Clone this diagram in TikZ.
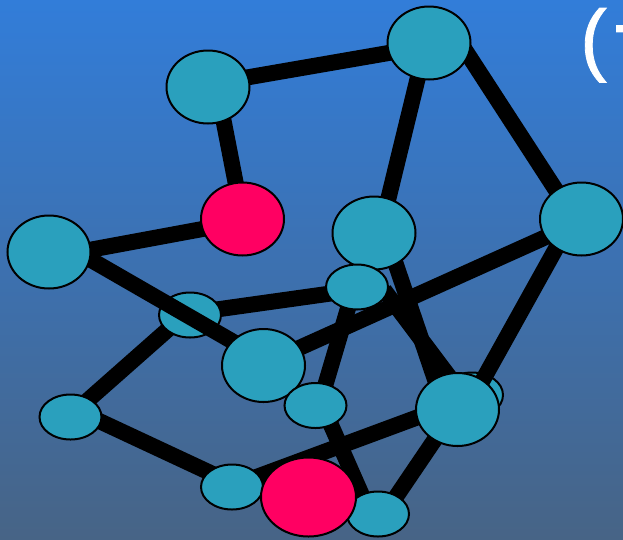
\documentclass[tikz,border=0pt]{standalone}
\usepackage{fontspec}
\setmainfont{Liberation Sans}
\newfontfamily\tfont[RawFeature={embolden=1}]{Liberation Sans}
\usetikzlibrary{shapes.geometric}
\pgfdeclarelayer{backdrop}
\pgfdeclarelayer{loweredges}
\pgfdeclarelayer{nodesback}
\pgfdeclarelayer{edges}
\pgfsetlayers{backdrop,loweredges,nodesback,edges,main}
\definecolor{bgtop}{RGB}{50,125,217}
\definecolor{bgbot}{RGB}{71,100,134}
\definecolor{tealn}{RGB}{42,160,189}
\definecolor{pinkn}{RGB}{255,0,98}
\tikzset{
  x=1pt,y=-1pt,
  atom/.style={draw=black,line width=2pt,ellipse,fill=tealn,inner sep=0pt,outer sep=0pt},
  big/.style={atom,minimum width=83pt,minimum height=73pt},
  small/.style={atom,minimum width=62pt,minimum height=45pt},
  hot/.style={big,fill=pinkn},
  bond/.style={line width=16pt,black}
}
\newcommand{\bond}[4]{\draw[bond] ([shift={#2}]#1.center)--([shift={#4}]#3.center);}
\begin{document}
\begin{tikzpicture}
\useasboundingbox (0,0) rectangle (623,539);
\begin{pgfonlayer}{backdrop}
\shade[top color=bgtop,bottom color=bgbot] (0,0) rectangle (623,539);
\end{pgfonlayer}
\begin{pgfonlayer}{nodesback}
\node[small] (s1) at (190,315) {};
\node[small] (s2) at (472,395) {};
\end{pgfonlayer}
\node[big] (a) at (429,43) {};
\node[big] (b) at (208,87) {};
\node[hot] (c) at (242.5,219) {};
\node[big] (d) at (49,252) {};
\node[big] (e) at (374,233) {};
\node[big] (f) at (581.5,219) {};
\node[small] (g) at (357,287) {};
\node[big] (h) at (263.5,365.5) {};
\node[small] (i) at (315.5,405.5) {};
\node[small] (j) at (70.5,417) {};
\node[big] (k) at (457.5,409.5) {};
\node[small] (l) at (232,487) {};
\node[small] (m) at (378,514) {};
\node[hot,minimum width=95pt,minimum height=79pt] (n) at (308.5,497) {};
\begin{pgfonlayer}{loweredges}
\bond{s1}{(0,-1.8)}{g}{(0,2.8)}
\bond{s1}{(0,-5)}{j}{(-.5,-1)}
\end{pgfonlayer}
\begin{pgfonlayer}{edges}
\bond{b}{(0,-2.8)}{a}{(0,3)}
\bond{b}{(9,0)}{c}{(.2,0)}
\bond{a}{(-2.7,0)}{e}{(6,0)}
\bond{a}{(31.5,0)}{f}{(-6.8,0)}
\bond{d}{(0,5.4)}{c}{(-.5,2.7)}
\bond{d}{(11,-10)}{h}{(-.5,-6.5)}
\bond{h}{(0,-1.5)}{f}{(0,2)}
\bond{f}{(-9.1,0)}{s2}{(2.5,0)}
\bond{j}{(0,-9.4)}{l}{(0,-4)}
\bond{l}{(0,-1)}{k}{(0,-7)}
\bond{g}{(-2.7,0)}{i}{(3.9,-.5)}
\bond{i}{(6.7,-.5)}{m}{(-7.8,0)}
\bond{m}{(6.3,0)}{k}{(-2,-.5)}
\bond{e}{(11.2,0)}{k}{(-12.5,-.5)}
\bond{g}{(27,3)}{s2}{(-9,0)}
\end{pgfonlayer}
\clip (0,0) rectangle (623,539);
\node[text=white,font=\tfont\fontsize{80}{80}\selectfont,anchor=base west,inner sep=0pt] (t) at (580,66) {(\kern6pt\raisebox{16pt}{-}};
\end{tikzpicture}
\end{document}
